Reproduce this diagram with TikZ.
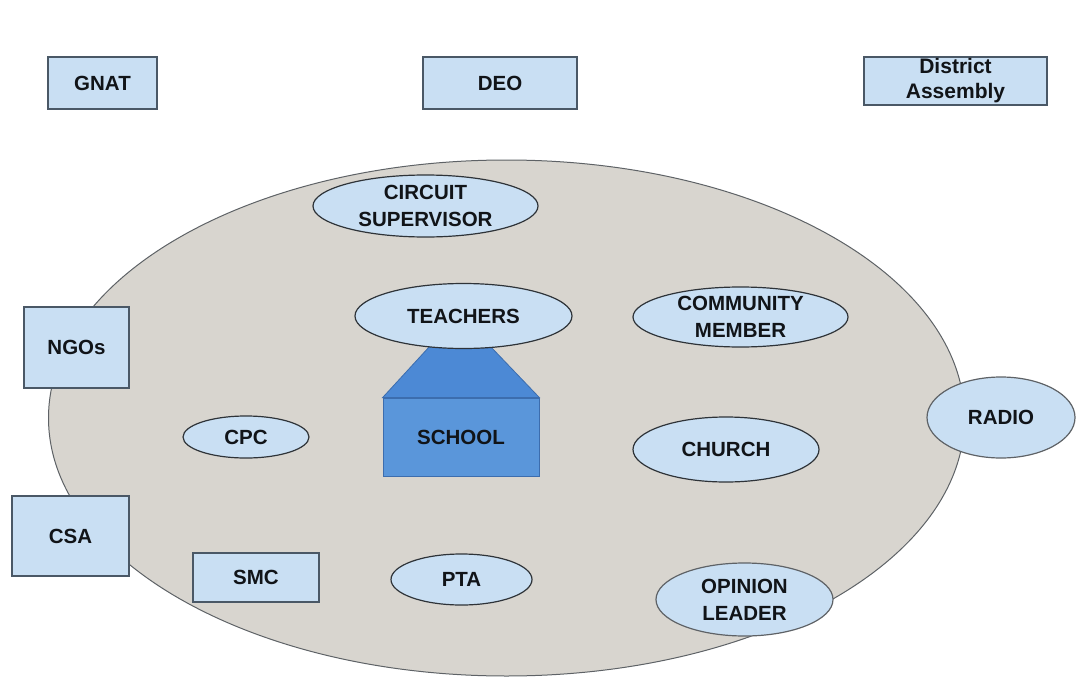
\documentclass[tikz,border=0pt]{standalone}
\usepackage{fontspec}
\setmainfont{Liberation Sans}
\usetikzlibrary{shapes.geometric}
\definecolor{nodefill}{HTML}{C9DFF3}
\definecolor{boxline}{HTML}{4A5866}
\definecolor{ovalline}{HTML}{2E3338}
\definecolor{bigfill}{HTML}{D8D5CF}
\definecolor{bigline}{HTML}{5E6266}
\definecolor{rooffill}{HTML}{4C89D5}
\definecolor{bodyfill}{HTML}{5A96DA}
\definecolor{schoolline}{HTML}{3C6DAE}
\definecolor{txt}{HTML}{111418}
\tikzset{
  lbl/.style={font=\fontsize{20.5}{27}\selectfont\bfseries, text=txt, align=center, inner sep=0pt},
  boxnode/.style={lbl, rectangle, draw=boxline, fill=nodefill, line width=1.3pt},
  ovalnode/.style={lbl, ellipse, draw=ovalline, fill=nodefill, line width=1.2pt},
}
\begin{document}
\begin{tikzpicture}[x=1pt,y=-1pt]
\useasboundingbox (0,0) rectangle (1081,677);
% big community ellipse
\node[ellipse, draw=bigline, fill=bigfill, line width=1pt, minimum width=916pt, minimum height=516pt, inner sep=0pt] (area) at (506.5,418) {};
% top boxes
\node[boxnode, minimum width=109pt, minimum height=52pt] (gnat) at (102.5,83) {GNAT};
\node[boxnode, minimum width=154pt, minimum height=52pt] (deo) at (500,83) {DEO};
\node[boxnode, minimum width=183pt, minimum height=48pt, font=\fontsize{21}{25}\selectfont\bfseries] (da) at (955.5,81) {District\\Assembly};
% left boxes
\node[boxnode, minimum width=105pt, minimum height=81pt] (ngo) at (76.5,347.5) {NGOs};
\node[boxnode, minimum width=117pt, minimum height=80pt] (csa) at (70.5,536) {CSA};
\node[boxnode, minimum width=126pt, minimum height=49pt] (smc) at (256,577.5) {SMC};
% school
\node[rectangle, draw=schoolline, fill=bodyfill, line width=0.8pt, minimum width=156pt, minimum height=78pt, inner sep=0pt] (school) at (461,437) {};
\draw[draw=schoolline, fill=rooffill, line width=0.8pt] (school.north west) -- (430,346) -- (490,346) -- (school.north east) -- cycle;
\node[lbl] at (school.center) {SCHOOL};
% ovals
\node[ovalnode, minimum width=225pt, minimum height=62pt] (cs) at (425.5,206) {CIRCUIT\\SUPERVISOR};
\node[ovalnode, minimum width=217pt, minimum height=65pt] (teach) at (463.5,316) {TEACHERS};
\node[ovalnode, minimum width=215pt, minimum height=60pt] (cm) at (740.5,317) {COMMUNITY\\MEMBER};
\node[ovalnode, minimum width=186pt, minimum height=65pt] (church) at (726,449.5) {CHURCH};
\node[ovalnode, minimum width=126pt, minimum height=42pt] (cpc) at (246,437) {CPC};
\node[ovalnode, minimum width=141pt, minimum height=51pt] (pta) at (461.5,579.5) {PTA};
\node[ovalnode, minimum width=148pt, minimum height=81pt, draw=bigline] (radio) at (1001,417.5) {RADIO};
\node[ovalnode, minimum width=177pt, minimum height=73pt, draw=bigline] (ol) at (744.5,599.5) {OPINION\\LEADER};
\end{tikzpicture}
\end{document}
